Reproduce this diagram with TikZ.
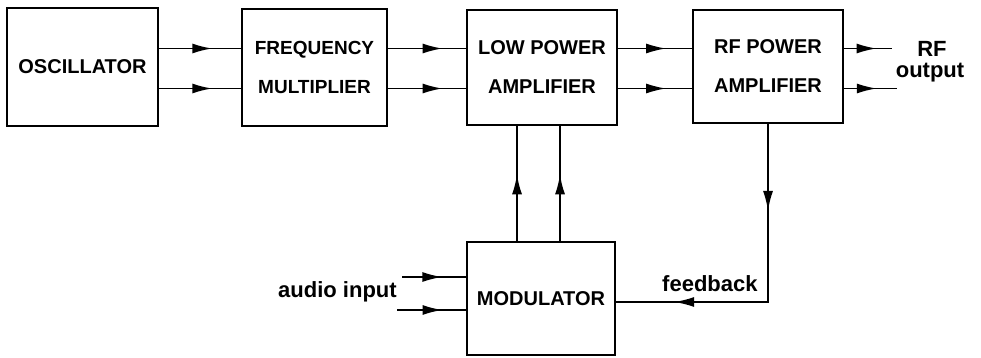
\documentclass[tikz,border=0pt]{standalone}
\usepackage{fontspec}
\setmainfont{Liberation Sans}
\usetikzlibrary{arrows.meta,decorations.markings}
\begin{document}
\begin{tikzpicture}[x=1pt,y=1pt,
  blk/.style={draw,line width=1.9pt,rectangle,inner sep=0pt,align=center,
    font=\bfseries\fontsize{20}{39}\selectfont},
  ln/.style={line width=1.9pt},
  tipa/.tip={Latex[length=20pt,width=10pt]},
  midarr/.style={ln,postaction={decorate},
    decoration={markings,mark=at position #1 with {\arrow{tipa}}}},
  lbl/.style={font=\bfseries\fontsize{22}{24}\selectfont,inner sep=0pt}]
\useasboundingbox[fill=white] (0,0) rectangle (981,-358);
% blocks
\node[blk,minimum width=151pt,minimum height=118pt] (osc) at (82.5,-67) {OSCILLATOR};
\node[blk,minimum width=145pt,minimum height=117pt,font=\bfseries\fontsize{19}{39}\selectfont] (fm) at (314.5,-67.5) {FREQUENCY\\MULTIPLIER};
\node[blk,minimum width=150pt,minimum height=115pt] (lpa) at (542,-67.5) {LOW POWER\\AMPLIFIER};
\node[blk,minimum width=150pt,minimum height=113pt] (rfpa) at (768,-66.5) {RF POWER\\AMPLIFIER};
\node[blk,minimum width=148pt,minimum height=113pt] (mod) at (541,-298.5) {MODULATOR};
% helper coordinates
\coordinate (r1) at (0,-48.5);
\coordinate (r2) at (0,-88.5);
\coordinate (v1) at (517,0);
\coordinate (v2) at (560,0);
\coordinate (o1) at (892,-48.5);
\coordinate (o2) at (897,-88.5);
\coordinate (a1) at (402,-277);
\coordinate (a2) at (397,-310);
\coordinate (fb) at (0,-302);
% horizontal connectors
\draw[midarr=0.65] (osc.east |- r1) -- (fm.west |- r1);
\draw[midarr=0.65] (osc.east |- r2) -- (fm.west |- r2);
\draw[midarr=0.7] (fm.east |- r1) -- (lpa.west |- r1);
\draw[midarr=0.7] (fm.east |- r2) -- (lpa.west |- r2);
\draw[midarr=0.65] (lpa.east |- r1) -- (rfpa.west |- r1);
\draw[midarr=0.65] (lpa.east |- r2) -- (rfpa.west |- r2);
\draw[midarr=0.68] (rfpa.east |- r1) -- (o1);
\draw[midarr=0.62] (rfpa.east |- r2) -- (o2);
% modulator to low power amplifier
\draw[midarr=0.58] (mod.north -| v1) -- (lpa.south -| v1);
\draw[midarr=0.58] (mod.north -| v2) -- (lpa.south -| v2);
% audio input
\draw[midarr=0.63] (a1) -- (mod.west |- a1);
\draw[midarr=0.66] (a2) -- (mod.west |- a2);
% feedback
\draw[ln,postaction={decorate},
  decoration={markings,
    mark=at position 87pt with {\arrow{tipa}},
    mark=at position 272pt with {\arrow{tipa}}}]
  (rfpa.south) -- (rfpa.south |- fb) -- (mod.east |- fb);
% labels
\node[lbl,anchor=base] (rf) at (932,-57) {RF};
\node[lbl,anchor=base] (out) at (930,-78) {output};
\node[lbl,anchor=base west] (aud) at (278,-297) {audio input};
\node[lbl,anchor=base west] (fbl) at (662,-291) {feedback};
\end{tikzpicture}
\end{document}
